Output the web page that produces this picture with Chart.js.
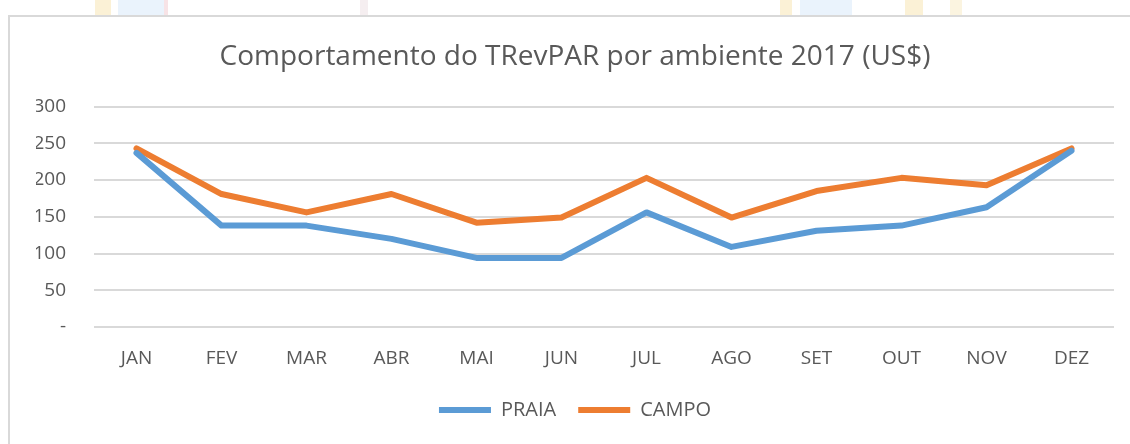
<!DOCTYPE html>
<html>
<head>
<meta charset="utf-8">
<script src="https://cdn.jsdelivr.net/npm/chart.js@4/dist/chart.umd.min.js"></script>
<style>
  html, body { margin: 0; padding: 0; background: #fff; }
  body { width: 1130px; height: 444px; position: relative; overflow: hidden; }
  .deco { position: absolute; top: 0; height: 15px; }
  #box {
    position: absolute; left: 8px; top: 15px; width: 1122px; height: 429px;
    border-left: 2px solid #d9d9d9; border-top: 2px solid #d9d9d9;
    box-sizing: border-box; background: #fff;
  }
  #wrap { position: absolute; left: 0; top: 0; width: 1120px; height: 427px; }
</style>
</head>
<body>
<!-- faded picture strip above the chart box -->
<div class="deco" style="left:95px;width:16px;background:#fbf1d6"></div>
<div class="deco" style="left:118px;width:46px;background:#eaf3fc"></div>
<div class="deco" style="left:164px;width:4px;background:#f7e3e6"></div>
<div class="deco" style="left:360px;width:8px;background:#f5eef0"></div>
<div class="deco" style="left:780px;width:12px;background:#fbf1d6"></div>
<div class="deco" style="left:800px;width:52px;background:#eaf3fc"></div>
<div class="deco" style="left:905px;width:18px;background:#fbf1d6"></div>
<div class="deco" style="left:950px;width:12px;background:#fbf4e0"></div>
<div id="box"><div id="wrap"><canvas id="grafico"></canvas></div></div>
<script>
// datos
const meses = ["JAN", "FEV", "MAR", "ABR", "MAI", "JUN", "JUL", "AGO", "SET", "OUT", "NOV", "DEZ"];
const praia = [237, 138, 138, 120, 94, 94, 156, 109, 131, 138, 163, 240];
const campo = [243, 181, 156, 181, 142, 149, 203, 149, 185, 203, 193, 243];
const ticksY = [0, 50, 100, 150, 200, 250, 300];

const corTexto = "#595959";
const fonte = "'Liberation Sans Narrow', 'Open Sans', sans-serif";

Chart.defaults.color = corTexto;
Chart.defaults.font.family = fonte;

const ctx = document.getElementById("grafico").getContext("2d");
new Chart(ctx, {
  type: "line",
  data: {
    labels: meses,
    datasets: [{
        label: "PRAIA",
        data: praia,
        borderColor: "#5B9BD5",
        backgroundColor: "#5B9BD5",
        borderWidth: 6,
        borderCapStyle: "round",
        borderJoinStyle: "round",
        tension: 0,
        pointRadius: 0
      },
      {
        label: "CAMPO",
        data: campo,
        borderColor: "#ED7D31",
        backgroundColor: "#ED7D31",
        borderWidth: 6,
        borderCapStyle: "round",
        borderJoinStyle: "round",
        tension: 0,
        pointRadius: 0
      }
    ]
  },
  options: {
    responsive: true,
    maintainAspectRatio: false,
    animation: false,
    layout: { padding: { left: 26, right: 16, top: 0, bottom: 14 } },
    plugins: {
      tooltip: { enabled: false },
      title: {
        display: true,
        text: "Comportamento do TRevPAR por ambiente 2017 (US$)",
        color: corTexto,
        font: { size: 28, weight: "normal", family: fonte },
        padding: { top: 23, bottom: 33 }
      },
      legend: {
        position: "bottom",
        labels: {
          color: corTexto,
          font: { size: 20, family: fonte },
          boxWidth: 52,
          boxHeight: 6,
          padding: 22,
          generateLabels: function (chart) {
            return Chart.defaults.plugins.legend.labels.generateLabels(chart).map(function (it) {
              it.lineWidth = 0;
              return it;
            });
          }
        }
      }
    },
    scales: {
      x: {
        offset: true,
        grid: { display: false, drawTicks: false },
        border: { display: false },
        ticks: { font: { size: 19 }, padding: 20, color: corTexto },
        afterFit: function (scale) { scale.height = 51; }
      },
      y: {
        min: 0,
        max: 300,
        afterBuildTicks: function (scale) {
          scale.ticks = ticksY.map(v => ({ value: v }));
        },
        grid: { color: "#d9d9d9", lineWidth: 2, drawTicks: false },
        border: { display: false },
        ticks: {
          font: { size: 19 },
          color: corTexto,
          padding: 28,
          callback: function (v) { return v === 0 ? "-" : v; }
        },
        afterFit: function (scale) { scale.width = 58; }
      }
    }
  }
});
</script>
</body>
</html>
